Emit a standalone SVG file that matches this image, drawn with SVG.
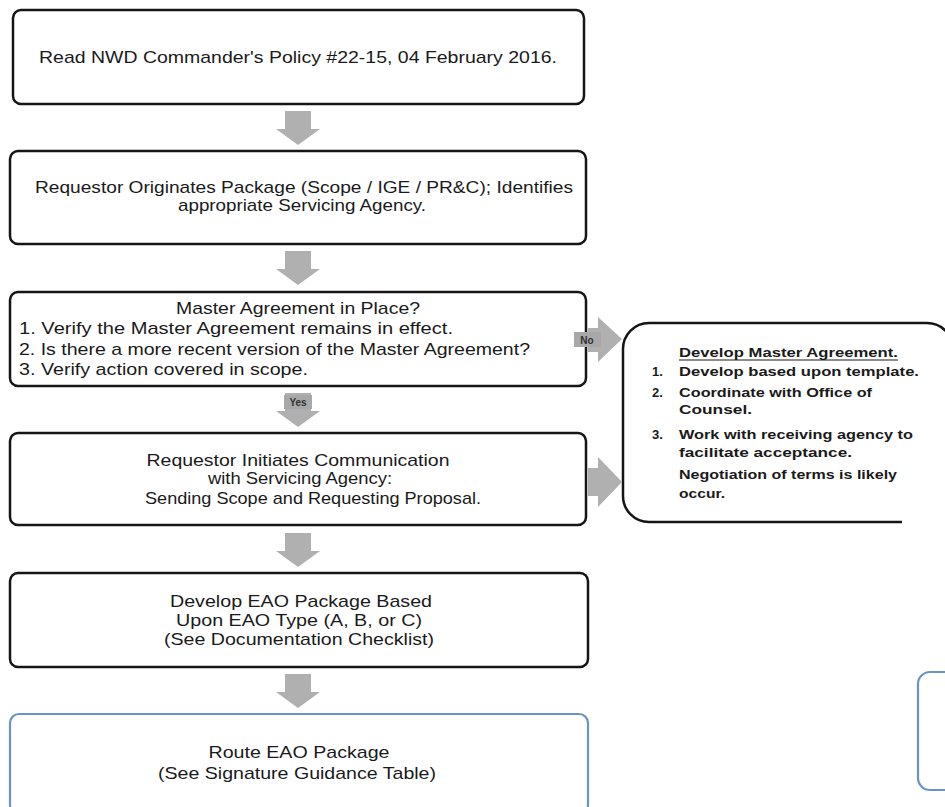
<svg xmlns="http://www.w3.org/2000/svg" width="945" height="807" viewBox="0 0 945 807">
<defs>
<style>
.box{fill:#fff;stroke:#151515;stroke-width:2.5}
.blue{fill:#fff;stroke:#6a93c9;stroke-width:2.2}
.t{font-family:"Liberation Sans",Arial,sans-serif;font-size:17px;fill:#1a1a1a}
.c{text-anchor:middle}
.b{font-family:"Liberation Sans",Arial,sans-serif;font-size:13px;font-weight:bold;fill:#1a1a1a}
.arr{fill:#b0b0b0}
.lbl{font-family:"Liberation Sans",Arial,sans-serif;font-size:10px;font-weight:bold;fill:#333;text-anchor:middle}
</style>
<path id="down" d="M-13,0 H13 V18 H22 L0,34 L-22,18 H-13 Z"/>
</defs>

<g id="n1">
<rect class="box" x="13" y="10" width="571" height="94" rx="8"/>
<text class="t c" x="298" y="63" textLength="518" lengthAdjust="spacingAndGlyphs">Read NWD Commander's Policy #22-15, 04 February 2016.</text>
</g>

<g id="n2">
<rect class="box" x="10" y="151" width="576" height="93" rx="8"/>
<text class="t c" x="304" y="193" textLength="538" lengthAdjust="spacingAndGlyphs">Requestor Originates Package (Scope / IGE / PR&amp;C); Identifies</text>
<text class="t c" x="302" y="211" textLength="248" lengthAdjust="spacingAndGlyphs">appropriate Servicing Agency.</text>
</g>

<g id="n3">
<rect class="box" x="10" y="292" width="576" height="94" rx="8"/>
<text class="t c" x="298" y="314" textLength="244" lengthAdjust="spacingAndGlyphs">Master Agreement in Place?</text>
<text class="t" x="19" y="334" textLength="434" lengthAdjust="spacingAndGlyphs">1. Verify the Master Agreement remains in effect.</text>
<text class="t" x="19" y="355" textLength="511" lengthAdjust="spacingAndGlyphs">2. Is there a more recent version of the Master Agreement?</text>
<text class="t" x="19" y="375" textLength="289" lengthAdjust="spacingAndGlyphs">3. Verify action covered in scope.</text>
</g>

<g id="n4">
<rect class="box" x="10" y="433" width="576" height="92" rx="8"/>
<text class="t c" x="298" y="466" textLength="303" lengthAdjust="spacingAndGlyphs">Requestor Initiates Communication</text>
<text class="t c" x="300" y="484" textLength="184" lengthAdjust="spacingAndGlyphs">with Servicing Agency:</text>
<text class="t c" x="313" y="504" textLength="336" lengthAdjust="spacingAndGlyphs">Sending Scope and Requesting Proposal.</text>
</g>

<g id="n5">
<rect class="box" x="10" y="573" width="578" height="94" rx="8"/>
<text class="t c" x="301" y="607" textLength="262" lengthAdjust="spacingAndGlyphs">Develop EAO Package Based</text>
<text class="t c" x="299" y="626" textLength="246" lengthAdjust="spacingAndGlyphs">Upon EAO Type (A, B, or C)</text>
<text class="t c" x="299" y="645" textLength="270" lengthAdjust="spacingAndGlyphs">(See Documentation Checklist)</text>
</g>

<g id="n6">
<rect class="blue" x="10" y="714" width="578" height="100" rx="9"/>
<text class="t c" x="299" y="758" textLength="181" lengthAdjust="spacingAndGlyphs">Route EAO Package</text>
<text class="t c" x="297" y="779" textLength="278" lengthAdjust="spacingAndGlyphs">(See Signature Guidance Table)</text>
</g>

<g id="n7">
<rect class="box" x="623" y="323" width="330" height="199" rx="26" stroke-width="2"/>
<rect x="902" y="362" width="50" height="170" fill="#fff"/>
<text class="b" x="679" y="357" textLength="219" lengthAdjust="spacingAndGlyphs">Develop Master Agreement.</text>
<line x1="679" y1="360" x2="898" y2="360" stroke="#1a1a1a" stroke-width="1.2"/>
<text class="b" x="652" y="376">1.</text>
<text class="b" x="679" y="376" textLength="240" lengthAdjust="spacingAndGlyphs">Develop based upon template.</text>
<text class="b" x="652" y="397">2.</text>
<text class="b" x="679" y="397" textLength="193" lengthAdjust="spacingAndGlyphs">Coordinate with Office of</text>
<text class="b" x="679" y="414" textLength="73" lengthAdjust="spacingAndGlyphs">Counsel.</text>
<text class="b" x="652" y="439">3.</text>
<text class="b" x="679" y="439" textLength="234" lengthAdjust="spacingAndGlyphs">Work with receiving agency to</text>
<text class="b" x="679" y="457" textLength="173" lengthAdjust="spacingAndGlyphs">facilitate acceptance.</text>
<text class="b" x="679" y="479" textLength="218" lengthAdjust="spacingAndGlyphs">Negotiation of terms is likely</text>
<text class="b" x="679" y="498" textLength="46" lengthAdjust="spacingAndGlyphs">occur.</text>
</g>

<g id="n8">
<rect class="blue" x="918" y="672" width="40" height="118" rx="12"/>
</g>

<g id="connectors">
<use href="#down" class="arr" x="298" y="111"/>
<use href="#down" class="arr" x="298" y="251"/>
<use href="#down" class="arr" x="298" y="393"/>
<use href="#down" class="arr" x="298" y="533"/>
<use href="#down" class="arr" x="298" y="674"/>
<path class="arr" d="M588,328 H598 V317 L622,339 L598,362 V352 H588 Z"/>
<path class="arr" d="M588,468 H598 V457 L622,482 L598,507 V496 H588 Z"/>
<rect x="574" y="332" width="27" height="15" fill="#a8a8a8"/>
<text class="lbl" x="587" y="344">No</text>
<rect x="284" y="395" width="28" height="14" fill="#a8a8a8"/>
<text class="lbl" x="298" y="406">Yes</text>
</g>
</svg>
